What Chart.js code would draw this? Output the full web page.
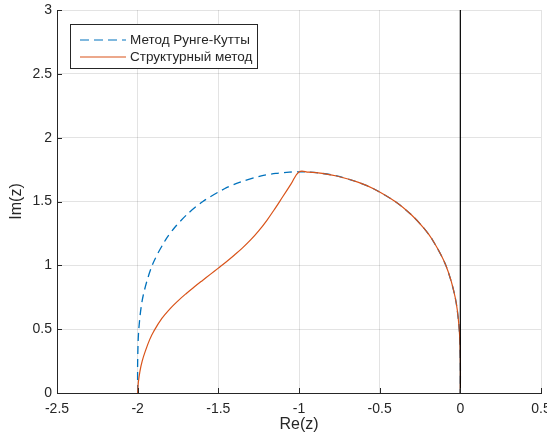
<!DOCTYPE html>
<html>
<head>
<meta charset="utf-8">
<script src="https://cdn.jsdelivr.net/npm/chart.js"></script>
<style>
  body { margin: 0; background: #fff; }
</style>
</head>
<body>
<canvas id="myChart" width="547" height="443"></canvas>
<script>
// Метод Рунге-Кутты (граница, штрихи)
const rkX = [-2.000, -2.000, -1.993, -1.968, -1.910, -1.827, -1.768, -1.693, -1.596, -1.462, -1.369, -1.234, -1.144, -1.060, -1.000,
             -0.940, -0.856, -0.766, -0.631, -0.538, -0.404, -0.307, -0.232, -0.173, -0.090, -0.032, -0.007, 0.000, 0.000];
const rkY = [0.00, 0.25, 0.50, 0.75, 1.00, 1.20, 1.30, 1.40, 1.50, 1.60, 1.65, 1.70, 1.72, 1.73, 1.732,
             1.73, 1.72, 1.70, 1.65, 1.60, 1.50, 1.40, 1.30, 1.20, 1.00, 0.75, 0.50, 0.25, 0.00];

// Структурный метод (сплошная)
const structX = [-2.000, -1.996, -1.986, -1.972, -1.952, -1.925, -1.900, -1.850, -1.800, -1.750, -1.700, -1.650, -1.600,
                 -1.550, -1.500, -1.450, -1.400, -1.350, -1.300, -1.250, -1.200, -1.150, -1.100, -1.050, -1.000,
                 -0.940, -0.856, -0.766, -0.631, -0.538, -0.404, -0.307, -0.232, -0.173, -0.090, -0.032, -0.007, 0.000, 0.000];
const structY = [0.00, 0.08, 0.17, 0.25, 0.33, 0.42, 0.484, 0.584, 0.659, 0.722, 0.778, 0.830, 0.880,
                 0.929, 0.978, 1.028, 1.081, 1.137, 1.199, 1.270, 1.351, 1.442, 1.539, 1.636, 1.732,
                 1.73, 1.72, 1.70, 1.65, 1.60, 1.50, 1.40, 1.30, 1.20, 1.00, 0.75, 0.50, 0.25, 0.00];

// мнимая ось
const imAxisX = [0, 0];
const imAxisY = [0, 3];

const xTicks = [-2.5, -2, -1.5, -1, -0.5, 0, 0.5];
const yTicks = [0, 0.5, 1, 1.5, 2, 2.5, 3];
const seriesNames = ['Метод Рунге-Кутты', 'Структурный метод'];

const blue = '#0072BD';
const orange = '#D95319';
const ink = '#262626';

function toPoints(xs, ys) {
  return xs.map((x, i) => ({ x: x, y: ys[i] }));
}

// засечки внутрь и легенда в рамке
const extras = {
  id: 'extras',
  afterDraw(chart) {
    const c = chart.ctx;
    const xs = chart.scales.x, ys = chart.scales.y;
    const area = chart.chartArea;
    c.save();
    c.strokeStyle = ink;
    c.lineWidth = 1;
    c.beginPath();
    xTicks.forEach(v => {
      const px = Math.round(xs.getPixelForValue(v)) + 0.5;
      c.moveTo(px, area.bottom);
      c.lineTo(px, area.bottom - 5);
    });
    yTicks.forEach(v => {
      const py = Math.round(ys.getPixelForValue(v)) + 0.5;
      c.moveTo(area.left, py);
      c.lineTo(area.left + 5, py);
    });
    c.stroke();

    // легенда
    const bx = 70.5, by = 24.5, bw = 187, bh = 44;
    c.fillStyle = '#fff';
    c.fillRect(bx, by, bw, bh);
    c.strokeStyle = ink;
    c.strokeRect(bx, by, bw, bh);

    const rows = [40, 57];
    c.lineWidth = 1.2;
    c.strokeStyle = blue;
    c.setLineDash([9, 5]);
    c.beginPath();
    c.moveTo(80, rows[0]); c.lineTo(126, rows[0]);
    c.stroke();
    c.setLineDash([]);
    c.strokeStyle = orange;
    c.beginPath();
    c.moveTo(80, rows[1]); c.lineTo(126, rows[1]);
    c.stroke();

    c.fillStyle = ink;
    c.font = '13.5px "Liberation Sans", Arial, sans-serif';
    c.textBaseline = 'middle';
    c.textAlign = 'left';
    c.fillText(seriesNames[0], 130, rows[0]);
    c.fillText(seriesNames[1], 130, rows[1]);
    c.restore();
  }
};

const ctx = document.getElementById('myChart');

new Chart(ctx, {
  type: 'scatter',
  data: {
    datasets: [
      {
        label: 'Im',
        data: toPoints(imAxisX, imAxisY),
        showLine: true,
        borderColor: '#000',
        borderWidth: 1.2,
        pointRadius: 0,
        tension: 0
      },
      {
        label: seriesNames[1],
        data: toPoints(structX, structY),
        showLine: true,
        borderColor: orange,
        borderWidth: 1.2,
        pointRadius: 0,
        tension: 0.4
      },
      {
        label: seriesNames[0],
        data: toPoints(rkX, rkY),
        showLine: true,
        borderColor: blue,
        borderWidth: 1.3,
        borderDash: [8, 5],
        pointRadius: 0,
        tension: 0.3
      }
    ]
  },
  options: {
    responsive: false,
    animation: false,
    events: [],
    layout: { padding: { top: 10, right: 6, left: 0, bottom: 0 } },
    plugins: {
      legend: { display: false },
      tooltip: { enabled: false }
    },
    scales: {
      x: {
        type: 'linear',
        min: -2.5,
        max: 0.5,
        afterBuildTicks: s => { s.ticks = xTicks.map(v => ({ value: v })); },
        afterFit: s => { s.height = 50; s.paddingLeft = 0; s.paddingRight = 0; },
        ticks: {
          color: ink,
          padding: 8,
          maxRotation: 0,
          autoSkip: false,
          font: { family: '"Liberation Sans", Arial, sans-serif', size: 14 },
          callback: v => String(v)
        },
        grid: { color: 'rgba(38,38,38,0.13)', drawTicks: false },
        border: { color: ink, width: 1 },
        title: {
          display: true,
          text: 'Re(z)',
          color: ink,
          padding: { top: 0, bottom: 9 },
          font: { family: '"Liberation Sans", Arial, sans-serif', size: 16 }
        }
      },
      y: {
        type: 'linear',
        min: 0,
        max: 3,
        afterBuildTicks: s => { s.ticks = yTicks.map(v => ({ value: v })); },
        afterFit: s => { s.width = 57; s.paddingTop = 0; s.paddingBottom = 0; },
        ticks: {
          color: ink,
          padding: 5,
          autoSkip: false,
          font: { family: '"Liberation Sans", Arial, sans-serif', size: 14 },
          callback: v => String(v)
        },
        grid: { color: 'rgba(38,38,38,0.13)', drawTicks: false },
        border: { color: ink, width: 1 },
        title: {
          display: true,
          text: 'Im(z)',
          color: ink,
          padding: { top: 7, bottom: 0 },
          font: { family: '"Liberation Sans", Arial, sans-serif', size: 16 }
        }
      }
    }
  },
  plugins: [extras]
});
</script>
</body>
</html>
